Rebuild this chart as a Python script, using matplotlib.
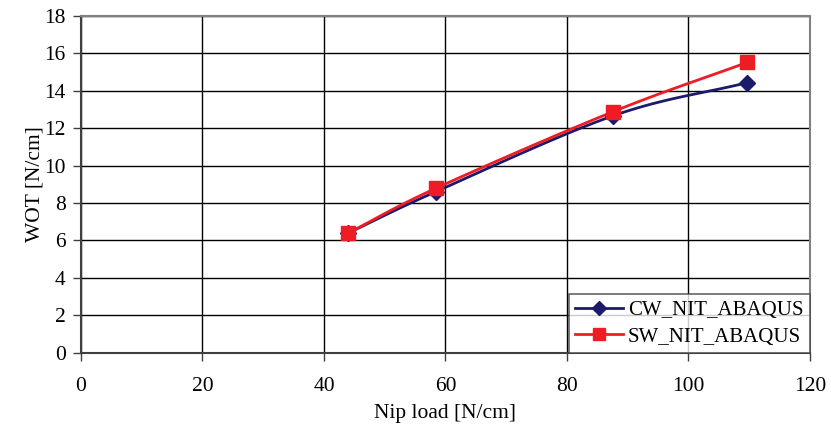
import numpy as np
import matplotlib
matplotlib.use("Agg")
import matplotlib.pyplot as plt
from matplotlib.lines import Line2D

nip_load = [44.0, 58.4, 87.6, 109.7]
cw_wot = [6.4, 8.6, 12.65, 14.42]
sw_wot = [6.4, 8.78, 12.87, 15.5]
series_names = ["CW_NIT_ABAQUS", "SW_NIT_ABAQUS"]
x_ticks = [0, 20, 40, 60, 80, 100, 120]
y_ticks = [0, 2, 4, 6, 8, 10, 12, 14, 16, 18]

plt.rcParams['font.family'] = ['Liberation Serif', 'DejaVu Serif']


def smooth(x, y, n=30):
    # Catmull-Rom rendering of the line (Excel-like "smoothed line")
    x = np.asarray(x, float); y = np.asarray(y, float)
    px = np.concatenate([[2 * x[0] - x[1]], x, [2 * x[-1] - x[-2]]])
    py = np.concatenate([[2 * y[0] - y[1]], y, [2 * y[-1] - y[-2]]])
    xs, ys = [], []
    t = np.linspace(0, 1, n)
    for i in range(1, len(px) - 2):
        for arr, out in ((px, xs), (py, ys)):
            p0, p1, p2, p3 = arr[i - 1], arr[i], arr[i + 1], arr[i + 2]
            out.extend(0.5 * ((2 * p1) + (-p0 + p2) * t
                              + (2 * p0 - 5 * p1 + 4 * p2 - p3) * t ** 2
                              + (-p0 + 3 * p1 - 3 * p2 + p3) * t ** 3))
    return xs, ys


fig = plt.figure(figsize=(8.31, 4.36), dpi=100)
ax = fig.add_axes([0.0975, 0.1904, 0.877, 0.774])

navy = "#1b1b6b"
red = "#ee1c25"

sx, sy = smooth(nip_load, cw_wot)
ax.plot(sx, sy, color=navy, lw=2, zorder=3)
ax.plot(nip_load, cw_wot, ls="none", marker="D", ms=8, color=navy, zorder=4)
sx, sy = smooth(nip_load, sw_wot)
ax.plot(sx, sy, color=red, lw=2, zorder=5)
ax.plot(nip_load, sw_wot, ls="none", marker="s", ms=10.5, color=red, zorder=6)

ax.set_xlim(0, 120)
ax.set_ylim(0, 18)
ax.set_xticks(x_ticks)
ax.set_yticks(y_ticks)
ax.grid(True, color="black", lw=1, zorder=0)
ax.set_axisbelow(True)
for s in ax.spines.values():
    s.set_color("#808080")
    s.set_linewidth(1.5)
ax.spines['left'].set_color("#404040")
ax.spines['bottom'].set_color("#404040")
ax.tick_params(axis='both', direction='out', length=6, width=1, color="#404040",
               labelsize=15.5, pad=5)
ax.tick_params(axis='x', pad=11)
ax.set_xlabel("Nip load [N/cm]", fontsize=15.5, labelpad=6)
ax.set_ylabel("WOT [N/cm]", fontsize=15.5, labelpad=0)

handles = [
    Line2D([], [], color=navy, lw=2, marker="D", ms=7),
    Line2D([], [], color=red, lw=2, marker="s", ms=9),
]
leg = ax.legend(handles, series_names, loc="lower right", fontsize=15,
                frameon=True, fancybox=False, borderaxespad=0,
                handlelength=2.3, handletextpad=0.25, borderpad=0.3,
                labelspacing=0.35)
leg.get_frame().set_edgecolor("#404040")
leg.get_frame().set_linewidth(1.2)

fig.savefig("out.png", dpi=100)
